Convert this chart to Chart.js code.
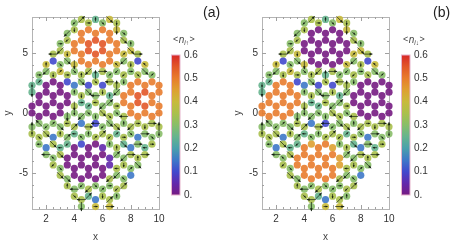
<!DOCTYPE html>
<html>
<head>
<meta charset="utf-8">
<script src="https://cdn.jsdelivr.net/npm/chart.js@4.4.1/dist/chart.umd.min.js"></script>
<style>
html, body { margin: 0; padding: 0; background: #fff; }
#wrap { position: relative; width: 457px; height: 244px; overflow: hidden; }
canvas { position: absolute; top: 0; }
</style>
</head>
<body>
<div id="wrap">
  <canvas id="panelA" width="230" height="244" style="left:0;width:230px;height:244px"></canvas>
  <canvas id="panelB" width="227" height="244" style="left:230px;width:227px;height:244px"></canvas>
</div>
<script>
// lattice columns (x) and the y rows of the honeycomb
const colX = [1, 1.5, 2, 2.5, 3, 3.5, 4, 4.5, 5, 5.5, 6, 6.5, 7, 7.5, 8, 8.5, 9, 9.5, 10];
const rowsInt = [7.506, 6.928, 5.774, 5.196, 4.041, 3.464, 2.309, 1.732, 0.577, 0,
                 -1.155, -1.732, -2.887, -3.464, -4.619, -5.196, -6.351, -6.928];
const rowsHalf = [7.794, 6.639, 6.062, 4.907, 4.330, 3.175, 2.598, 1.443, 0.866, -0.289,
                  -0.866, -2.021, -2.598, -3.753, -4.330, -5.485, -6.062, -7.217, -7.794];
// index of the top site of each column
const colStart = [6, 5, 4, 3, 2, 1, 0, 0, 0, 0, 0, 0, 0, 1, 2, 3, 4, 5, 6];

// site densities, one char per site from the top: '0'..'9','A','B','C' = 0, 0.05, ... 0.6
const nUp = [
  "550067", "65000676", "8600006736", "727000063767", "67680000675767",
  "6786720067650067", "67AA86367675000067", "7AAAA76756362000676", "7ABBA7265676000075",
  "5ABBA57676270000638", "6ABBA7276767100067", "8AAAA67567676117678", "78AA86767675767676",
  "678676AA76756767", "6876AAAA763763", "727ABBA73676", "86ABBA7657", "6AAAA767", "AAAA76"
];
const nDown = [
  "55AA67", "65AAA676", "86AAAA6736", "727AAAA63767", "6768AAAA675767",
  "678672AA6765AA67", "670086367675AAAA67", "7000076756369AAA676", "700007265676AAAA75",
  "500005767627AAAA638", "6000072767679AAA67", "8000067567676997678", "780086767675767676",
  "6786760076756767", "68760000763763", "727000073676", "8600007657", "60000767", "000076"
];
// in-plane spin per site: '1'..'8' long arrow E,NE,N,NW,W,SW,S,SE ; 'a'..'h' short ; '.' none
const spins = [
  "g7..3c", "ab...4he", "c6....f8.5", "5.g....b.8df", "a6hb....8ce8h8",
  "6fg8a...7e2f..8c", "fg..7h.c7g2e....5h", "2....c8ga6.d....f57", "a....6.8bh1c....62",
  "c....3h5eg5b....h.a", "h....1.g68f2....bg", "8....b5c2h8fc..6a21", "g7..df36ah8bc2e6fc",
  "h8b6fg..5ca86gd2", "c8ga....6h.1b.", "1.h....a.1c8", "d8....g1e1", "b....1ha", "....3g"
];

const xTicks = [2, 4, 6, 8, 10];
const yTicks = [-5, 0, 5];
const barTicks = [0, 0.1, 0.2, 0.3, 0.4, 0.5, 0.6];
const barLabels = ["0.", "0.1", "0.2", "0.3", "0.4", "0.5", "0.6"];
const codes = "0123456789ABC";

// rainbow colour scale
const stops = [
  [0.00, [118, 27, 130]], [0.05, [98, 40, 172]], [0.10, [66, 72, 205]],
  [0.15, [62, 120, 200]], [0.20, [74, 160, 172]], [0.25, [102, 180, 142]],
  [0.30, [136, 190, 105]], [0.35, [170, 192, 76]], [0.40, [200, 186, 60]],
  [0.45, [222, 160, 50]], [0.50, [232, 124, 45]], [0.55, [226, 86, 40]],
  [0.60, [215, 40, 40]]
];
function colorOf(v, a) {
  let i = 0;
  while (i < stops.length - 2 && v > stops[i + 1][0]) i++;
  const [v0, c0] = stops[i], [v1, c1] = stops[i + 1];
  const t = Math.max(0, Math.min(1, (v - v0) / (v1 - v0)));
  const c = c0.map((c, k) => Math.round(c + (c1[k] - c) * t));
  return 'rgba(' + c[0] + ',' + c[1] + ',' + c[2] + ',' + a + ')';
}

function sites(vals) {
  const pts = [], cols = [], arrows = [];
  colX.forEach((x, c) => {
    const rows = (x % 1 === 0) ? rowsInt : rowsHalf;
    for (let k = 0; k < vals[c].length; k++) {
      pts.push({ x: x, y: rows[colStart[c] + k] });
      cols.push(colorOf(codes.indexOf(vals[c][k]) * 0.05, 0.9));
      arrows.push(spins[c][k]);
    }
  });
  return { pts, cols, arrows };
}

const fam = '"Liberation Sans", Arial, sans-serif';

function drawArrow(ctx, x, y, code) {
  let dir, len;
  if (code >= '1' && code <= '8') { dir = code.charCodeAt(0) - 49; len = 9; }
  else { dir = code.charCodeAt(0) - 97; len = 4; }
  const ang = dir * Math.PI / 4;
  const ux = Math.cos(ang), uy = -Math.sin(ang);
  const x0 = x - ux * len / 2, y0 = y - uy * len / 2;
  const x1 = x + ux * len / 2, y1 = y + uy * len / 2;
  ctx.beginPath(); ctx.moveTo(x0, y0); ctx.lineTo(x1, y1); ctx.stroke();
  const h = len > 6 ? 2.8 : 2, w = h * 0.5;
  ctx.beginPath();
  ctx.moveTo(x1 + ux * 0.5, y1 + uy * 0.5);
  ctx.lineTo(x1 - ux * h - uy * w, y1 - uy * h + ux * w);
  ctx.lineTo(x1 - ux * h + uy * w, y1 - uy * h - ux * w);
  ctx.closePath(); ctx.fill();
}

const decor = {
  id: 'decor',
  beforeDatasetsDraw(chart) {
    const { ctx, chartArea: a, scales } = chart;
    ctx.save();
    ctx.strokeStyle = '#b4b4b4'; ctx.lineWidth = 1;
    ctx.strokeRect(a.left + 0.5, a.top + 0.5, a.right - a.left, a.bottom - a.top);
    ctx.strokeStyle = '#a0a0a0';
    for (let v = 1.5; v < 10; v += 0.5) {
      const px = Math.round(scales.x.getPixelForValue(v)) + 0.5;
      const L = xTicks.includes(v) ? 4 : 2;
      ctx.beginPath();
      ctx.moveTo(px, a.bottom); ctx.lineTo(px, a.bottom - L);
      ctx.moveTo(px, a.top); ctx.lineTo(px, a.top + L);
      ctx.stroke();
    }
    for (let v = -7; v <= 7; v += 1) {
      const py = Math.round(scales.y.getPixelForValue(v)) + 0.5;
      const L = yTicks.includes(v) ? 4 : 2;
      ctx.beginPath();
      ctx.moveTo(a.left, py); ctx.lineTo(a.left + L, py);
      ctx.moveTo(a.right, py); ctx.lineTo(a.right - L, py);
      ctx.stroke();
    }
    ctx.restore();
  },
  afterDatasetsDraw(chart, args, opts) {
    const { ctx } = chart;
    const meta = chart.getDatasetMeta(0);
    ctx.save();
    ctx.strokeStyle = 'rgba(15,25,15,0.85)'; ctx.fillStyle = 'rgba(15,25,15,0.85)';
    ctx.lineWidth = 0.8;
    meta.data.forEach((el, i) => {
      const code = opts.arrows[i];
      if (code && code !== '.') drawArrow(ctx, el.x, el.y, code);
    });
    ctx.restore();
  },
  afterDraw(chart, args, opts) {
    const { ctx } = chart;
    const bx = 171.5, bw = 8.5, top = 55, bot = 195;
    ctx.save();
    const g = ctx.createLinearGradient(0, bot, 0, top);
    stops.forEach(s => g.addColorStop(s[0] / 0.6, colorOf(s[0], 1)));
    ctx.fillStyle = g;
    ctx.fillRect(bx, top, bw, bot - top);
    ctx.strokeStyle = '#e6b3cc'; ctx.lineWidth = 1;
    ctx.strokeRect(bx, top, bw, bot - top);
    ctx.fillStyle = '#333';
    ctx.font = '10px ' + fam;
    ctx.textAlign = 'left'; ctx.textBaseline = 'middle';
    barTicks.forEach((v, i) => {
      ctx.fillText(barLabels[i], 184, bot - (v / 0.6) * (bot - top));
    });
    // colour bar title  <n_{i arrow}>
    let x = 173, y = 40;
    ctx.fillStyle = '#444';
    ctx.font = '9px ' + fam;
    ctx.fillText('<', x, y); x += ctx.measureText('<').width + 0.5;
    ctx.font = 'italic 10px ' + fam;
    ctx.fillText('n', x, y); x += ctx.measureText('n').width;
    ctx.font = 'italic 6.5px ' + fam;
    ctx.fillText('i', x, y + 3); x += ctx.measureText('i').width;
    ctx.font = '6.5px ' + fam;
    ctx.fillText(opts.spin, x, y + 3); x += ctx.measureText(opts.spin).width + 0.5;
    ctx.font = '9px ' + fam;
    ctx.fillText('>', x, y);
    // panel tag
    ctx.fillStyle = '#222';
    ctx.font = '14px ' + fam;
    ctx.fillText(opts.tag, 203, 13);
    ctx.restore();
  }
};

function makePanel(id, vals, tag, spin, rightPad) {
  const s = sites(vals);
  return new Chart(document.getElementById(id), {
    type: 'scatter',
    data: {
      datasets: [{
        data: s.pts,
        pointBackgroundColor: s.cols,
        pointBorderWidth: 0,
        pointRadius: 3.6,
        pointHoverRadius: 3.6,
        clip: false
      }]
    },
    options: {
      responsive: false,
      animation: false,
      events: [],
      layout: { padding: { left: 0, right: rightPad, top: 17, bottom: 0 } },
      plugins: {
        legend: { display: false },
        tooltip: { enabled: false },
        decor: { arrows: s.arrows, tag: tag, spin: spin }
      },
      scales: {
        x: {
          type: 'linear', min: 1, max: 10,
          afterBuildTicks: sc => { sc.ticks = xTicks.map(v => ({ value: v })); },
          afterFit: sc => { sc.height = 35; },
          grid: { display: false, drawTicks: false },
          border: { display: false },
          ticks: { color: '#333', font: { size: 10, family: fam }, padding: 4, maxRotation: 0, autoSkip: false },
          title: { display: true, text: 'x', color: '#444', font: { size: 10, family: fam }, padding: { top: 0, bottom: 1 } }
        },
        y: {
          type: 'linear', min: -8, max: 8,
          afterBuildTicks: sc => { sc.ticks = yTicks.map(v => ({ value: v })); },
          afterFit: sc => { sc.width = 32; },
          grid: { display: false, drawTicks: false },
          border: { display: false },
          ticks: { color: '#333', font: { size: 10, family: fam }, padding: 4, autoSkip: false,
                   callback: v => String(v) },
          title: { display: true, text: 'y', color: '#444', font: { size: 10, family: fam }, padding: { top: 2, bottom: 0 } }
        }
      }
    },
    plugins: [decor]
  });
}

makePanel('panelA', nUp, '(a)', '\u2191', 71);
makePanel('panelB', nDown, '(b)', '\u2193', 68);
</script>
</body>
</html>
